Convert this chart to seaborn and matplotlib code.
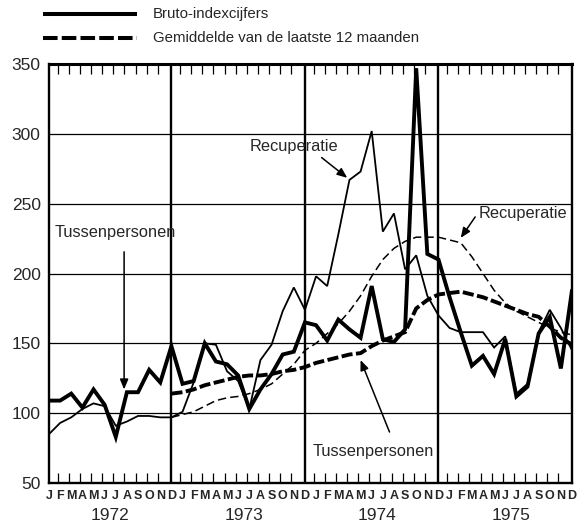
import matplotlib
matplotlib.use("Agg")
import matplotlib.pyplot as plt
from matplotlib.lines import Line2D
from matplotlib.transforms import blended_transform_factory
import numpy as np
import pandas as pd
import seaborn as sns

# Months Jan 1972 .. Dec 1975
month_letters = list("JFMAMJJASOND") * 4
years = ["1972", "1973", "1974", "1975"]

# Gross index figures (monthly)
tussen_bruto = [109, 109, 114, 104, 117, 106, 83, 115, 115, 131, 122, 148,
                121, 123, 150, 137, 135, 127, 103, 117, 128, 142, 144, 165,
                163, 152, 167, 160, 154, 191, 153, 151, 160, 347, 214, 210,
                183, 158, 134, 141, 128, 153, 112, 119, 157, 169, 132, 188]
recup_bruto = [85, 93, 97, 103, 107, 105, 91, 94, 98, 98, 97, 97,
               101, 122, 150, 149, 130, 123, 103, 138, 149, 173, 190, 174,
               198, 191, 228, 267, 273, 302, 230, 243, 203, 213, 184, 170,
               161, 158, 158, 158, 147, 155, 114, 121, 158, 174, 161, 145]

# Average of the last 12 months, from Dec 1972 onwards
tussen_gem = [114, 115, 117, 120, 122, 124, 126, 127, 127, 128, 130, 131, 133,
              136, 138, 140, 142, 143, 148, 152, 155, 158, 175, 181, 185,
              186, 187, 185, 183, 180, 177, 174, 171, 169, 162, 154, 149]
recup_gem = [97, 99, 101, 105, 109, 111, 112, 114, 117, 121, 128, 135, 145,
             150, 157, 164, 173, 184, 198, 210, 218, 223, 226, 226, 226,
             224, 222, 212, 200, 188, 179, 173, 169, 165, 161, 158, 156]

n = len(tussen_bruto)
x_all = np.arange(n)
x_gem = np.arange(n - len(tussen_gem), n)

sns.set_style("white")
plt.rcParams["font.family"] = ["Liberation Sans", "DejaVu Sans"]
plt.rcParams["lines.scale_dashes"] = False

fig = plt.figure(figsize=(5.87, 5.30), dpi=100)
W, H = 587, 530
ax = fig.add_axes([49 / W, 1 - 483 / H, (572 - 49) / W, (483 - 64) / H])

df_bruto = pd.DataFrame({"maand": x_all, "tussen": tussen_bruto, "recup": recup_bruto})
df_gem = pd.DataFrame({"maand": x_gem, "tussen": tussen_gem, "recup": recup_gem})

# grid: horizontal reference lines and year separators
for v in range(100, 301, 50):
    ax.axhline(v, color="black", lw=0.9, zorder=1)
for xv in (11, 23, 35):
    ax.axvline(xv, color="black", lw=1.7, zorder=1)

thin_dash = (0, (6, 3))
thick_dash = (0, (8, 2.5))

sns.lineplot(data=df_gem, x="maand", y="recup", ax=ax, color="black",
             lw=1.1, linestyle=thin_dash, errorbar=None, zorder=3)
sns.lineplot(data=df_bruto, x="maand", y="recup", ax=ax, color="black",
             lw=1.3, errorbar=None, zorder=3)
sns.lineplot(data=df_gem, x="maand", y="tussen", ax=ax, color="black",
             lw=2.8, linestyle=thick_dash, errorbar=None, zorder=4)
sns.lineplot(data=df_bruto, x="maand", y="tussen", ax=ax, color="black",
             lw=2.8, errorbar=None, zorder=4)
for ln in ax.lines:
    ln.set_solid_joinstyle("miter")
    ln.set_dash_joinstyle("miter")

ax.set_xlim(0, n - 1)
ax.set_ylim(50, 350)
ax.set_xlabel("")
ax.set_ylabel("")

# month labels
ax.set_xticks(x_all)
ax.set_xticklabels(month_letters, fontsize=9, fontweight="bold")
ax.tick_params(axis="x", which="major", length=0, pad=5)
# month tick marks on top and bottom, pointing inward
minor = [i - 0.22 for i in range(1, n - 1) if i not in (11, 23, 35)]
ax.set_xticks(minor, minor=True)
ax.tick_params(axis="x", which="minor", direction="in", length=7.5, width=0.9,
               top=True, bottom=True, color="black")

ax.set_yticks(range(50, 351, 50))
ax.set_yticklabels([str(v) for v in range(50, 351, 50)], fontsize=12.5)
ax.tick_params(axis="y", length=0, pad=6)

for sp in ax.spines.values():
    sp.set_linewidth(1.7)
    sp.set_color("black")
ax.spines["top"].set_linewidth(2.2)

# year labels under each block of months
trans = blended_transform_factory(ax.transData, ax.transAxes)
for k, yr in enumerate(years):
    ax.text(12 * k + 5.5, -0.077, yr, transform=trans, ha="center", va="center",
            fontsize=12.5)

# annotations
label_fs = 11.8
arrow_kw = dict(arrowstyle="-|>,head_length=0.6,head_width=0.25", color="black",
                lw=1.1, shrinkA=0, shrinkB=0)
ax.text(22.0, 291, "Recuperatie", fontsize=label_fs, ha="center", va="center")
ax.annotate("", xy=(26.8, 268.5), xytext=(24.5, 283), arrowprops=arrow_kw)
ax.text(38.6, 243.3, "Recuperatie", fontsize=label_fs, ha="left", va="center")
ax.annotate("", xy=(37.0, 225.5), xytext=(38.3, 240.5), arrowprops=arrow_kw)
ax.text(0.5, 229.7, "Tussenpersonen", fontsize=label_fs, ha="left", va="center")
ax.annotate("", xy=(6.75, 117), xytext=(6.75, 215.5), arrowprops=arrow_kw)
ax.text(23.65, 72.2, "Tussenpersonen", fontsize=label_fs, ha="left", va="center")
ax.annotate("", xy=(28.0, 138), xytext=(30.6, 86.5), arrowprops=arrow_kw)

# legend drawn at the top of the figure
fig.add_artist(Line2D([43 / W, 137 / W], [1 - 14 / H, 1 - 14 / H], color="black",
                      lw=2.9, solid_capstyle="butt"))
fig.add_artist(Line2D([43 / W, 137 / W], [1 - 38 / H, 1 - 38 / H], color="black",
                      lw=2.9, linestyle=(0, (10.5, 3)), dash_capstyle="butt"))
fig.text(153 / W, 1 - 14 / H, "Bruto-indexcijfers", fontsize=10.8, va="center")
fig.text(153 / W, 1 - 38 / H, "Gemiddelde van de laatste 12 maanden", fontsize=10.8,
         va="center")

fig.savefig("out.png", dpi=100)
